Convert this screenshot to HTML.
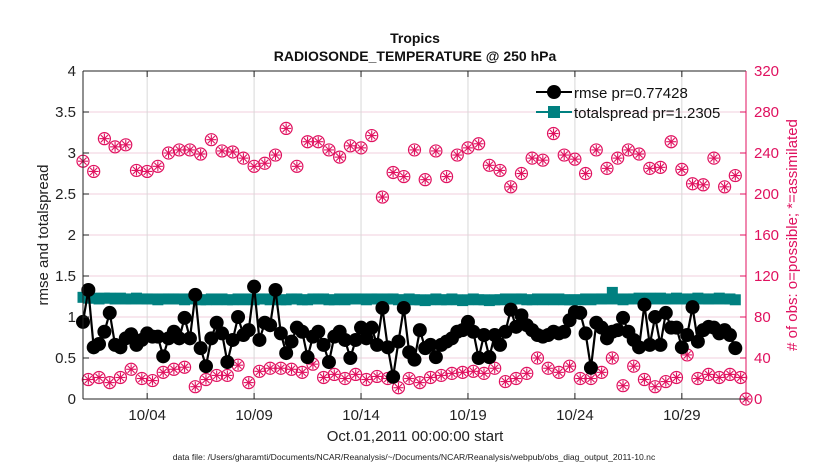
<!DOCTYPE html>
<html><head><meta charset="utf-8"><style>
html,body{margin:0;padding:0;background:#fff;}
svg{display:block;font-family:"Liberation Sans",Arial,sans-serif;}
</style></head><body>
<svg id="chart" width="830" height="470" viewBox="0 0 830 470">
<rect x="0" y="0" width="830" height="470" fill="#fff"/>
<g id="grid"></g>
<g id="series"></g>
<g id="axes"></g>
<text x="415" y="43" text-anchor="middle" font-size="14" font-weight="bold" fill="#111">Tropics</text>
<text x="415" y="61" text-anchor="middle" font-size="14" font-weight="bold" fill="#111">RADIOSONDE_TEMPERATURE @ 250 hPa</text>
<text transform="translate(48,235) rotate(-90)" text-anchor="middle" font-size="15" fill="#222">rmse and totalspread</text>
<text transform="translate(797,235) rotate(-90)" text-anchor="middle" font-size="15" fill="#e0115f"># of obs: o=possible; *=assimilated</text>
<text x="415" y="441" text-anchor="middle" font-size="15" fill="#222">Oct.01,2011 00:00:00 start</text>
<text x="414" y="460" text-anchor="middle" font-size="8.6" fill="#222">data file: /Users/gharamti/Documents/NCAR/Reanalysis/~/Documents/NCAR/Reanalysis/webpub/obs_diag_output_2011-10.nc</text>
<g id="legend"></g>
</svg>
<script>
const rmse=[0.94,1.33,0.63,0.67,0.82,1.05,0.66,0.63,0.74,0.79,0.66,0.72,0.80,0.76,0.76,0.52,0.74,0.82,0.74,0.99,0.74,1.27,0.62,0.40,0.74,0.93,0.80,0.45,0.72,1.00,0.78,
0.84,1.37,0.72,0.93,0.90,1.33,0.80,0.56,0.70,0.87,0.82,0.51,0.76,0.82,0.66,0.45,0.76,0.82,0.72,0.50,0.72,0.87,0.74,0.87,0.66,1.11,0.63,0.27,0.70,1.11,0.57,
0.48,0.84,0.62,0.66,0.51,0.66,0.70,0.74,0.82,0.84,0.94,0.82,0.50,0.78,0.51,0.78,0.66,0.82,1.09,0.88,1.02,0.90,0.84,0.78,0.76,0.78,0.82,0.80,0.82,0.96,1.06,
1.05,0.80,0.38,0.93,0.87,0.74,0.82,0.84,0.99,0.82,0.72,0.63,1.15,0.66,1.00,0.66,1.05,0.87,0.87,0.63,0.78,1.12,0.70,0.84,0.88,0.87,0.80,0.84,0.78,0.62];
const spread=[1.24,1.23,1.23,1.22,1.23,1.23,1.22,1.23,1.22,1.22,1.23,1.22,1.22,1.22,1.21,1.22,1.22,1.22,1.22,1.21,1.22,1.22,1.21,1.21,1.22,1.21,1.22,1.21,1.21,1.22,1.21,
1.22,1.21,1.22,1.22,1.21,1.22,1.21,1.21,1.22,1.22,1.21,1.21,1.22,1.22,1.22,1.21,1.21,1.22,1.21,1.22,1.22,1.22,1.21,1.22,1.22,1.21,1.22,1.22,1.21,1.21,1.22,
1.21,1.21,1.20,1.21,1.22,1.21,1.21,1.22,1.21,1.20,1.21,1.22,1.21,1.21,1.20,1.21,1.21,1.22,1.21,1.22,1.22,1.21,1.21,1.22,1.21,1.22,1.21,1.22,1.21,1.21,1.21,
1.21,1.22,1.21,1.22,1.22,1.22,1.30,1.22,1.21,1.22,1.22,1.23,1.22,1.23,1.22,1.23,1.22,1.22,1.23,1.22,1.22,1.22,1.23,1.22,1.22,1.22,1.23,1.22,1.22,1.21];
const obsHigh=[232,222,254,246,248,223,222,227,240,243,243,239,253,242,241,235,227,230,238,264,227,251,251,243,236,
247,245,257,197,221,217,243,214,242,217,238,245,249,228,223,207,220,235,233,259,
238,234,220,243,225,235,243,239,225,226,251,224,210,209,235,207,218,0];
const obsLow=[19,21,16,21,29,20,18,26,29,31,12,19,23,23,33,16,
27,30,30,29,26,34,21,24,20,24,19,22,20,11,20,
16,21,23,25,26,27,25,30,17,20,25,40,30,26,32,
20,20,26,40,13,32,19,12,17,21,43,20,24,21,24,21];
const xTickDays=[3,8,13,18,23,28];
const xTickLabels=['10/04','10/09','10/14','10/19','10/24','10/29'];
const yTicks=[0,0.5,1,1.5,2,2.5,3,3.5,4];
const yTickLabels=['0','0.5','1','1.5','2','2.5','3','3.5','4'];
const y2Ticks=[0,40,80,120,160,200,240,280,320];

const NS='http://www.w3.org/2000/svg';
const L=83,R=746,T=71,B=399,DAYS=31;
const PINK='#e0115f',TEAL='#008080';
function xs(d){return L+(d/DAYS)*(R-L);}
function ys(v){return B-(v/4)*(B-T);}
function y2(v){return B-(v/320)*(B-T);}
function mk(tag,attrs,parent){const e=document.createElementNS(NS,tag);for(const k in attrs)e.setAttribute(k,attrs[k]);parent.appendChild(e);return e;}
const grid=document.getElementById('grid'),axes=document.getElementById('axes'),ser=document.getElementById('series'),leg=document.getElementById('legend');

yTicks.forEach((v,i)=>{
  if(v>0&&v<4){const g=mk('line',{x1:L,x2:R,y1:ys(v),y2:ys(v),stroke:'#f2cfdc','stroke-width':1},grid);
  
  }
  const t=mk('text',{x:L-7,y:ys(v)+5,'text-anchor':'end','font-size':15,fill:'#222'},axes);t.textContent=yTickLabels[i];
  
  
  mk('line',{x1:L,x2:L+6,y1:ys(v),y2:ys(v),stroke:'#222'},axes);
});
y2Ticks.forEach(v=>{
  const t=mk('text',{x:R+8,y:y2(v)+5,'font-size':15,fill:PINK},axes);t.textContent=String(v);
  
  
  mk('line',{x1:R-6,x2:R,y1:y2(v),y2:y2(v),stroke:PINK},axes);
});
xTickDays.forEach((d,i)=>{
  const g=mk('line',{x1:xs(d),x2:xs(d),y1:T,y2:B,stroke:'#d8d8d8','stroke-width':1},grid);
  
  
  mk('line',{x1:xs(d),x2:xs(d),y1:B,y2:B-6,stroke:'#222'},axes);
  mk('line',{x1:xs(d),x2:xs(d),y1:T,y2:T+6,stroke:'#222'},axes);
  const t=mk('text',{x:xs(d),y:420,'text-anchor':'middle','font-size':15,fill:'#222'},axes);t.textContent=xTickLabels[i];
  
  
});
mk('line',{x1:L,x2:R,y1:T,y2:T,stroke:'#222'},axes);
mk('line',{x1:L,x2:R,y1:B,y2:B,stroke:'#222'},axes);
mk('line',{x1:L,x2:L,y1:T,y2:B,stroke:'#222'},axes);
mk('line',{x1:R,x2:R,y1:T,y2:B,stroke:PINK},axes);

function obsMark(x,y,parent){
  const g=mk('g',{},parent);
  mk('circle',{cx:x,cy:y,r:6,fill:'none',stroke:PINK,'stroke-width':1.2},g);
  for(let a=0;a<4;a++){const an=a*Math.PI/4;
    mk('line',{x1:x-5*Math.cos(an),y1:y-5*Math.sin(an),x2:x+5*Math.cos(an),y2:y+5*Math.sin(an),stroke:PINK,'stroke-width':1.1},g);}
  return g;
}
obsHigh.forEach((v,i)=>{const g=obsMark(xs(i*0.5),y2(v),ser);
  
  });
obsLow.forEach((v,i)=>{const g=obsMark(xs(0.25+i*0.5),y2(v),ser);
  
  });

const sp=spread.map((v,i)=>xs(i*0.25)+','+ys(v)).join(' ');
const spl=mk('polyline',{points:sp,fill:'none',stroke:TEAL,'stroke-width':2},ser);


spread.forEach((v,i)=>{const r=mk('rect',{x:xs(i*0.25)-5.5,y:ys(v)-5.5,width:11,height:11,fill:TEAL},ser);
  
  });
const rp=rmse.map((v,i)=>xs(i*0.25)+','+ys(v)).join(' ');
const rl=mk('polyline',{points:rp,fill:'none',stroke:'#000','stroke-width':2.2},ser);


rmse.forEach((v,i)=>{const c=mk('circle',{cx:xs(i*0.25),cy:ys(v),r:7,fill:'#000'},ser);
  
  });

const e1=mk('g',{},leg);


mk('line',{x1:536,x2:572,y1:92,y2:92,stroke:'#000','stroke-width':2},e1);
mk('circle',{cx:554,cy:92,r:7,fill:'#000'},e1);
const t1=mk('text',{x:574,y:98,'font-size':15,fill:'#111'},e1);t1.textContent='rmse pr=0.77428';
const e2=mk('g',{},leg);


mk('line',{x1:536,x2:572,y1:112,y2:112,stroke:TEAL,'stroke-width':2},e2);
mk('rect',{x:548,y:106,width:12,height:12,fill:TEAL},e2);
const t2=mk('text',{x:574,y:118,'font-size':15,fill:'#111'},e2);t2.textContent='totalspread pr=1.2305';
</script>
</body></html>
